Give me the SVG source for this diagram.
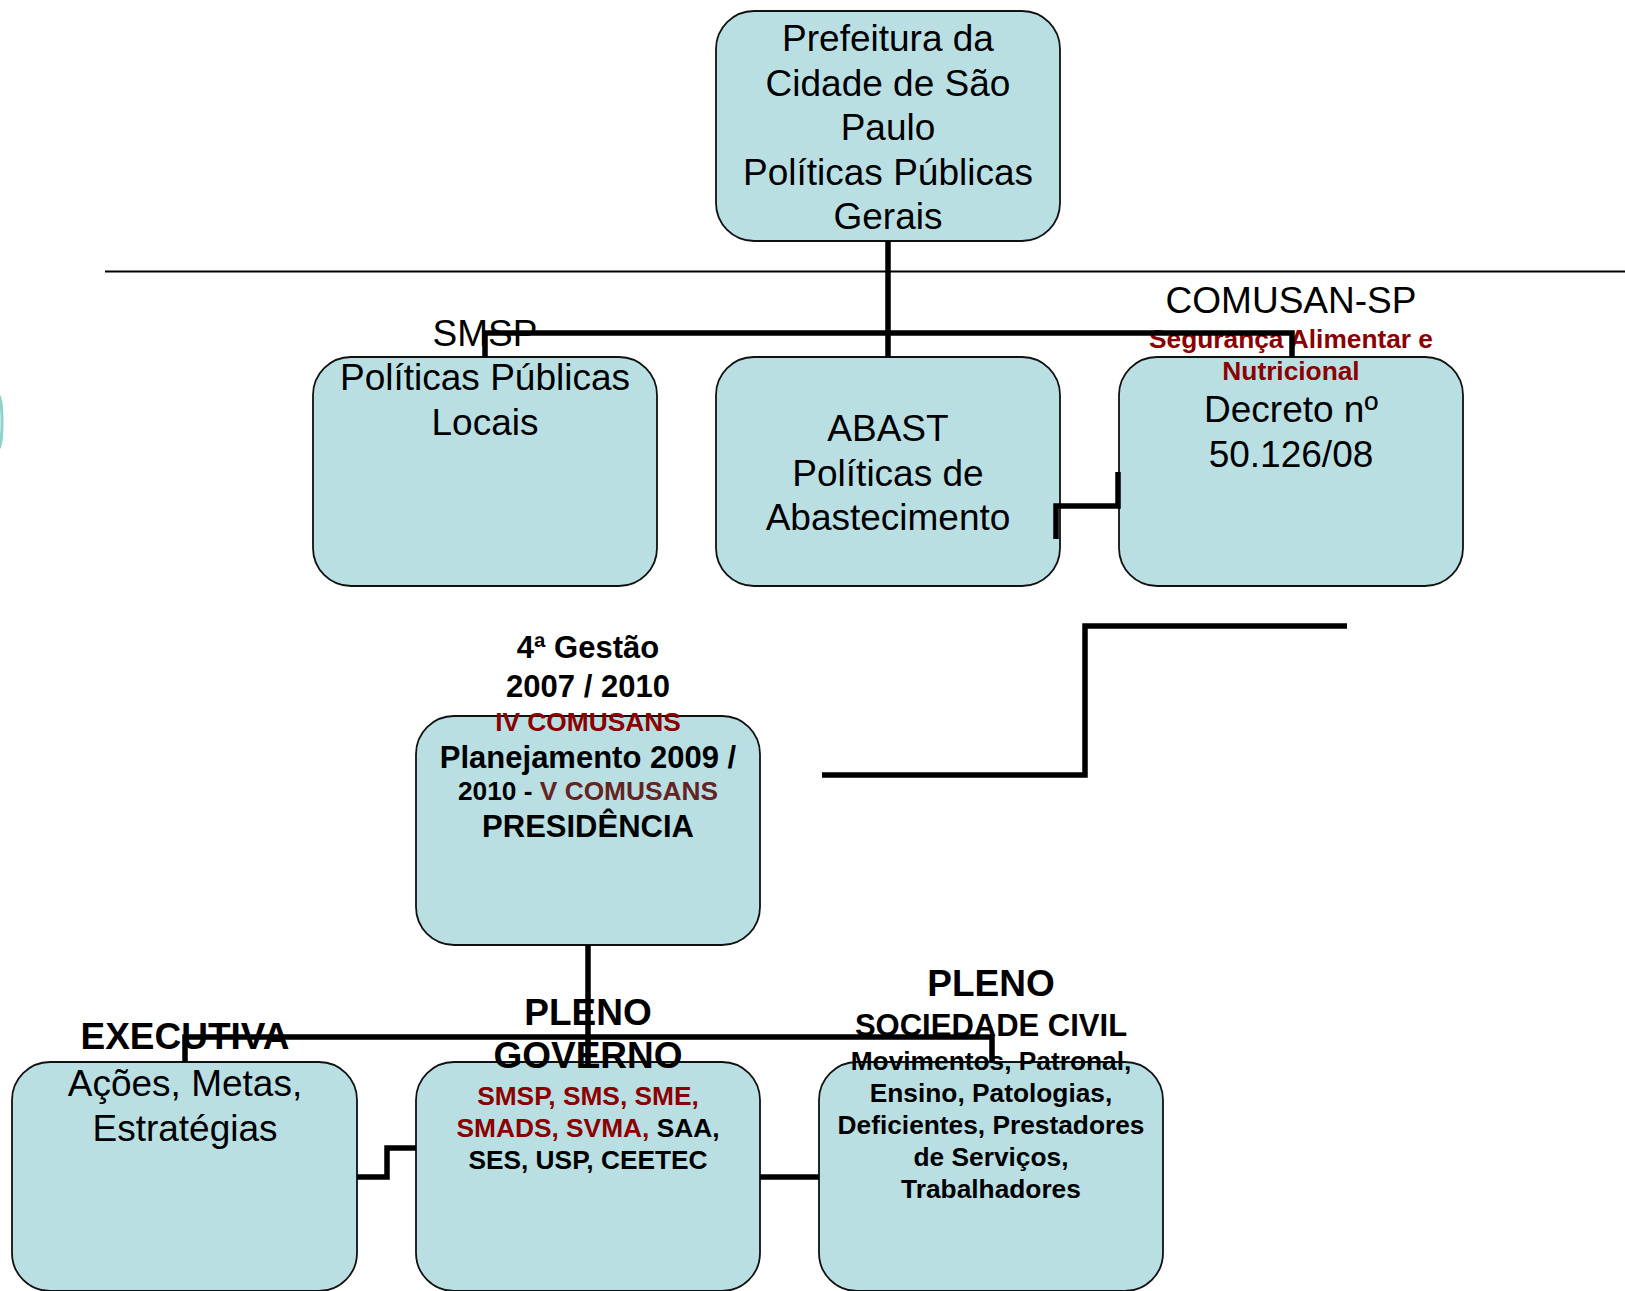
<svg xmlns="http://www.w3.org/2000/svg" width="1625" height="1291" viewBox="0 0 1625 1291">
<style>
.box{fill:#badfe3;stroke:#111;stroke-width:1.8}
.t{font-family:"Liberation Sans",Arial,sans-serif;text-anchor:middle;fill:#000}
.r37{font-size:37px}
.b31{font-size:31px;font-weight:bold}
.b37{font-size:37px;font-weight:bold}
.b26{font-size:26.3px;font-weight:bold}
.red{fill:#8b0000}
.dred{fill:#632423}
.conn{fill:none;stroke:#000;stroke-width:5.5}
</style>
<rect width="1625" height="1291" fill="#fff"/>
<ellipse cx="-2" cy="422" rx="4" ry="27" fill="none" stroke="#8fd3cf" stroke-width="3"/>
<line x1="105" y1="271.5" x2="1625" y2="271.5" stroke="#000" stroke-width="2"/>

<g id="node-prefeitura">
<rect class="box" x="716" y="11" width="344" height="230" rx="38"/>
<text class="t r37" x="888"><tspan x="888" y="51">Prefeitura da</tspan><tspan x="888" y="95.5">Cidade de São</tspan><tspan x="888" y="140">Paulo</tspan><tspan x="888" y="184.5">Políticas Públicas</tspan><tspan x="888" y="229">Gerais</tspan></text>
</g>

<g id="node-smsp">
<rect class="box" x="313" y="357" width="344" height="229" rx="38"/>
<text class="t r37" x="485" y="346">SMSP</text>
<text class="t r37"><tspan x="485" y="390">Políticas Públicas</tspan><tspan x="485" y="435">Locais</tspan></text>
</g>

<g id="node-abast">
<rect class="box" x="716" y="357" width="344" height="229" rx="38"/>
<text class="t r37"><tspan x="888" y="441">ABAST</tspan><tspan x="888" y="486">Políticas de</tspan><tspan x="888" y="530">Abastecimento</tspan></text>
</g>

<g id="node-comusan">
<rect class="box" x="1119" y="357" width="344" height="229" rx="38"/>
<text class="t r37" x="1291" y="313">COMUSAN-SP</text>
<text class="t b26 red"><tspan x="1291" y="348">Segurança Alimentar e</tspan><tspan x="1291" y="380">Nutricional</tspan></text>
<text class="t r37"><tspan x="1291" y="422">Decreto nº</tspan><tspan x="1291" y="467">50.126/08</tspan></text>
</g>

<g id="node-presidencia">
<rect class="box" x="416" y="716" width="344" height="229" rx="38"/>
<text class="t b31"><tspan x="588" y="658">4ª Gestão</tspan><tspan x="588" y="697">2007 / 2010</tspan></text>
<text class="t b26 red" x="588" y="731">IV COMUSANS</text>
<text class="t b31" x="588" y="768">Planejamento 2009 /</text>
<text class="t b26" x="588" y="800">2010 - <tspan class="dred">V COMUSANS</tspan></text>
<text class="t b31" x="588" y="837">PRESIDÊNCIA</text>
</g>

<g id="node-executiva">
<rect class="box" x="12" y="1062" width="345" height="229" rx="38"/>
<text class="t b37" x="185" y="1049">EXECUTIVA</text>
<text class="t r37"><tspan x="185" y="1096">Ações, Metas,</tspan><tspan x="185" y="1141">Estratégias</tspan></text>
</g>

<g id="node-governo">
<rect class="box" x="416" y="1062" width="344" height="229" rx="38"/>
<text class="t b37"><tspan x="588" y="1024.5">PLENO</tspan><tspan x="588" y="1068">GOVERNO</tspan></text>
<text class="t b26"><tspan x="588" y="1105" class="red">SMSP, SMS, SME,</tspan><tspan x="588" y="1137"><tspan class="red">SMADS, SVMA,</tspan> SAA,</tspan><tspan x="588" y="1169">SES, USP, CEETEC</tspan></text>
</g>

<g id="node-sociedade">
<rect class="box" x="819" y="1062" width="344" height="229" rx="38"/>
<text class="t b37" x="991" y="995.5">PLENO</text>
<text class="t b31" x="991" y="1036">SOCIEDADE CIVIL</text>
<text class="t b26"><tspan x="991" y="1069.5">Movimentos, Patronal,</tspan><tspan x="991" y="1101.5">Ensino, Patologias,</tspan><tspan x="991" y="1134">Deficientes, Prestadores</tspan><tspan x="991" y="1166">de Serviços,</tspan><tspan x="991" y="1198">Trabalhadores</tspan></text>
</g>

<g id="connectors">
<path class="conn" d="M888 241V357"/>
<path class="conn" d="M485 357V333H1292V357"/>
<path class="conn" d="M1056 539V506H1118V472"/>
<path class="conn" d="M1347 626H1085V775H822"/>
<path class="conn" d="M588 945V1064"/>
<path class="conn" d="M185 1062V1037H992V1062"/>
<path class="conn" d="M357 1177H387V1148H416"/>
<path class="conn" d="M760 1177H819"/>
</g>
</svg>
